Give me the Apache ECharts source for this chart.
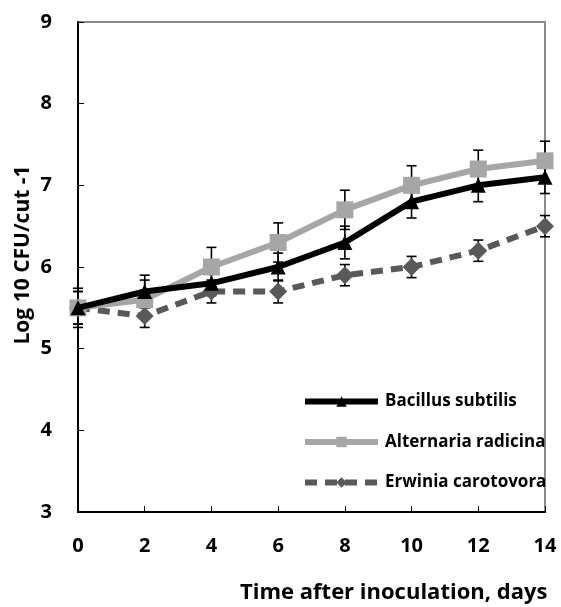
<!DOCTYPE html>
<html><head><meta charset="utf-8">
<script src="https://cdn.jsdelivr.net/npm/echarts@6/dist/echarts.min.js"></script>
<style>html,body{margin:0;padding:0;background:#fff}#c{width:561px;height:607px}</style>
</head><body><div id="c"></div>
<script>
const days = [0, 2, 4, 6, 8, 10, 12, 14];
const bacillus = [5.5, 5.7, 5.8, 6.0, 6.3, 6.8, 7.0, 7.1];
const bacillusErr = [0.2, 0.2, 0.15, 0.17, 0.2, 0.2, 0.2, 0.2];
const alternaria = [5.5, 5.6, 6.0, 6.3, 6.7, 7.0, 7.2, 7.3];
const alternariaErr = [0.24, 0.24, 0.24, 0.24, 0.24, 0.24, 0.23, 0.24];
const erwinia = [5.5, 5.4, 5.7, 5.7, 5.9, 6.0, 6.2, 6.5];
const erwiniaErr = [0.2, 0.14, 0.14, 0.14, 0.13, 0.13, 0.13, 0.13];
const names = ['Bacillus subtilis', 'Alternaria radicina', 'Erwinia carotovora'];
const yTicks = [3, 4, 5, 6, 7, 8, 9];
const xTitle = 'Time after inoculation, days';
const yTitle = 'Log 10 CFU/cut -1';

const FONT = '"Open Sans", "Liberation Sans", sans-serif';
const chart = echarts.init(document.getElementById('c'));

function errSeries(vals, errs, z) {
  const data = days.map((d, i) => [d, vals[i] - errs[i], vals[i] + errs[i]]);
  return {
    type: 'custom', z: z, silent: true,
    data: data,
    renderItem: function (params, api) {
      const x = api.value(0);
      const lo = api.coord([x, api.value(1)]);
      const hi = api.coord([x, api.value(2)]);
      const w = 5;
      const st = { stroke: '#000', lineWidth: 1.6 };
      return {
        type: 'group', children: [
          { type: 'line', shape: { x1: lo[0], y1: lo[1], x2: hi[0], y2: hi[1] }, style: st },
          { type: 'line', shape: { x1: lo[0] - w, y1: lo[1], x2: lo[0] + w, y2: lo[1] }, style: st },
          { type: 'line', shape: { x1: hi[0] - w, y1: hi[1], x2: hi[0] + w, y2: hi[1] }, style: st }
        ]
      };
    }
  };
}

chart.setOption({
  animation: false,
  grid: { left: 78, right: 16, top: 22, bottom: 95, show: true, borderColor: '#8c8c8c', borderWidth: 2 },
  xAxis: {
    type: 'value', min: 0, max: 14, interval: 2,
    axisLine: { show: true, onZero: false, lineStyle: { color: '#000', width: 2 } },
    axisTick: { show: true, inside: true, length: 6, lineStyle: { color: '#000', width: 1 } },
    axisLabel: { color: '#000', fontFamily: FONT, fontWeight: 'bold', fontSize: 20, margin: 24 },
    splitLine: { show: false }
  },
  yAxis: {
    type: 'value', min: yTicks[0], max: yTicks[yTicks.length - 1], interval: 1,
    axisLine: { show: true, lineStyle: { color: '#000', width: 2 } },
    axisTick: { show: true, inside: true, length: 6, lineStyle: { color: '#000', width: 1 } },
    axisLabel: { color: '#000', fontFamily: FONT, fontWeight: 'bold', fontSize: 20, margin: 26 },
    splitLine: { show: false }
  },
  legend: {
    orient: 'vertical', left: 297, top: 388, itemGap: 23.5,
    itemWidth: 73, itemHeight: 13,
    textStyle: { color: '#000', fontFamily: FONT, fontWeight: 'bold', fontSize: 17, padding: [0, 0, 0, 2] },
    lineStyle: { width: 6 },
    data: names
  },
  graphic: [{
    type: 'text', left: 240, top: 582,
    style: { text: xTitle, fill: '#000', font: 'bold 22px ' + FONT }
  }, {
    type: 'text', x: 23, y: 255, rotation: Math.PI / 2,
    style: { text: yTitle, fill: '#000', font: 'bold 21px ' + FONT, align: 'center', verticalAlign: 'middle' }
  }],
  series: [
    errSeries(erwinia, erwiniaErr, 1),
    errSeries(alternaria, alternariaErr, 1),
    errSeries(bacillus, bacillusErr, 1),
    {
      name: names[2], type: 'line', z: 2,
      data: days.map((d, i) => [d, erwinia[i]]),
      symbol: 'diamond', symbolSize: 18,
      lineStyle: { color: '#595959', width: 6, type: [12, 8] },
      itemStyle: { color: '#595959' }
    },
    {
      name: names[1], type: 'line', z: 3,
      data: days.map((d, i) => [d, alternaria[i]]),
      symbol: 'rect', symbolSize: 17,
      lineStyle: { color: '#a6a6a6', width: 6 },
      itemStyle: { color: '#a6a6a6' }
    },
    {
      name: names[0], type: 'line', z: 4,
      data: days.map((d, i) => [d, bacillus[i]]),
      symbol: 'triangle', symbolSize: 15,
      lineStyle: { color: '#000', width: 6 },
      itemStyle: { color: '#000' }
    }
  ]
});
</script></body></html>
